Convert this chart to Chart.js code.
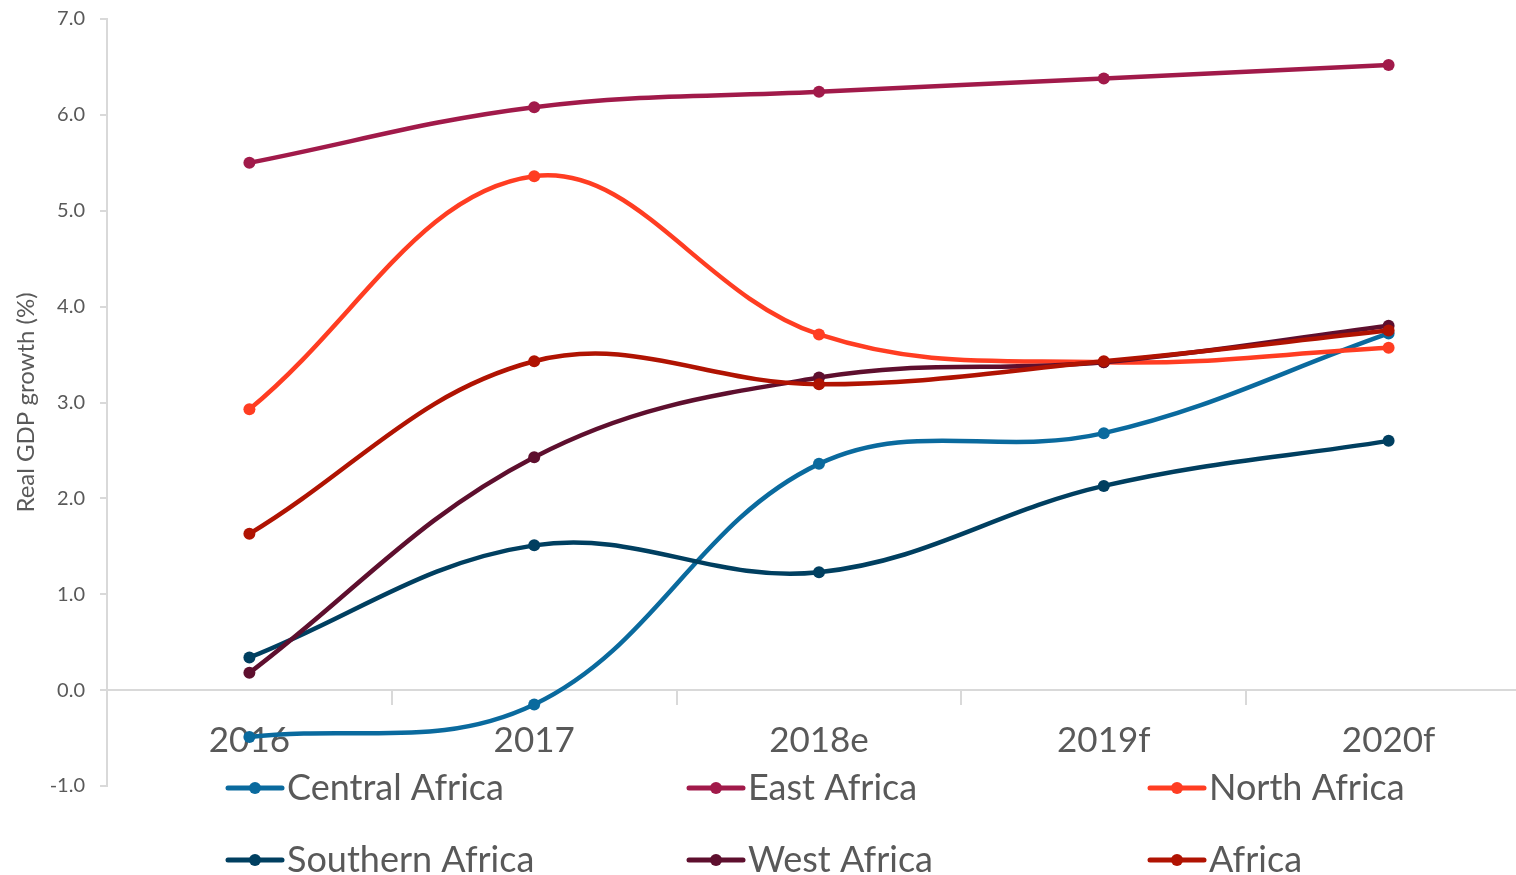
<!DOCTYPE html>
<html>
<head>
<meta charset="utf-8">
<title>Real GDP growth by region</title>
<script src="https://cdn.jsdelivr.net/npm/chart.js@4.4.1/dist/chart.umd.min.js"></script>
<style>
  html, body { margin: 0; padding: 0; background: #fff; overflow: hidden; }
  #wrap { width: 1537px; height: 875px; position: relative; }
</style>
</head>
<body>
<div id="wrap"><canvas id="canvas"></canvas></div>
<script>
// categories and regional growth rates (%)
var years = ['2016', '2017', '2018e', '2019f', '2020f'];
var centralAfrica  = [-0.49, -0.15, 2.36, 2.68, 3.72];
var eastAfrica     = [5.50, 6.08, 6.24, 6.38, 6.52];
var northAfrica    = [2.93, 5.36, 3.71, 3.42, 3.57];
var southernAfrica = [0.34, 1.51, 1.23, 2.13, 2.60];
var westAfrica     = [0.18, 2.43, 3.26, 3.42, 3.80];
var africa         = [1.63, 3.43, 3.19, 3.43, 3.75];
var yTicks = [-1, 0, 1, 2, 3, 4, 5, 6, 7];

var textColor = '#595959';
var axisColor = '#d9d9d9';
var font = 'Lato';

function series(label, data, color, order) {
  return {
    label: label,
    data: data,
    borderColor: color,
    backgroundColor: color,
    borderWidth: 4.5,
    pointRadius: 6,
    pointBorderWidth: 0,
    pointBackgroundColor: color,
    tension: 0.38,
    fill: false,
    order: order // later series sit on top
  };
}

// legend in three fixed columns under the x labels
var gridLegend = {
  id: 'gridLegend',
  afterDraw: function(chart) {
    var ctx = chart.ctx;
    var area = chart.chartArea;
    chart.data.datasets.forEach(function(ds, i) {
      var col = i % 3, row = Math.floor(i / 3);
      var x = area.left + 121 + col * 461;
      var y = area.bottom + 2 + row * 72;
      ctx.save();
      ctx.strokeStyle = ds.borderColor;
      ctx.lineWidth = 5;
      ctx.lineCap = 'round';
      ctx.beginPath();
      ctx.moveTo(x, y);
      ctx.lineTo(x + 54, y);
      ctx.stroke();
      ctx.fillStyle = ds.borderColor;
      ctx.beginPath();
      ctx.arc(x + 27, y, 6, 0, Math.PI * 2);
      ctx.fill();
      ctx.fillStyle = textColor;
      ctx.font = '36px ' + font;
      ctx.textBaseline = 'middle';
      ctx.textAlign = 'left';
      ctx.fillText(ds.label, x + 59, y);
      ctx.restore();
    });
  }
};

// no extra padding from the scales, the layout padding decides the plot box
function noScalePadding(scale) {
  scale.paddingTop = 0;
  scale.paddingBottom = 0;
}

var config = {
  type: 'line',
  data: {
    labels: years,
    datasets: [
      series('Central Africa', centralAfrica, '#0a6a9e', 5),
      series('East Africa', eastAfrica, '#a11a4a', 4),
      series('North Africa', northAfrica, '#ff3d22', 3),
      series('Southern Africa', southernAfrica, '#003f60', 2),
      series('West Africa', westAfrica, '#5e0f2e', 1),
      series('Africa', africa, '#b01302', 0)
    ]
  },
  options: {
    responsive: true,
    maintainAspectRatio: false,
    animation: false,
    devicePixelRatio: 1,
    layout: { padding: { top: 19, bottom: 89, left: 0, right: 0 } },
    plugins: {
      legend: { display: false },
      tooltip: { enabled: false }
    },
    scales: {
      x: {
        type: 'category',
        position: { y: 0 },
        offset: true,
        afterFit: noScalePadding,
        grid: {
          drawOnChartArea: false,
          offset: true,
          tickLength: 14,
          color: axisColor,
          lineWidth: 2
        },
        border: { display: true, color: axisColor, width: 2 },
        ticks: {
          color: textColor,
          font: { family: font, size: 35 },
          padding: 16,
          maxRotation: 0
        }
      },
      y: {
        min: -1,
        max: 7,
        afterFit: function(scale) {
          scale.width = 107;
          noScalePadding(scale);
        },
        afterBuildTicks: function(scale) {
          scale.ticks = yTicks.map(function(v) { return { value: v }; });
        },
        grid: {
          drawOnChartArea: false,
          tickLength: 7,
          color: axisColor,
          lineWidth: 2
        },
        border: { display: true, color: axisColor, width: 2 },
        ticks: {
          color: textColor,
          font: { family: font, size: 20 },
          padding: 15,
          callback: function(v) { return Number(v).toFixed(1); }
        },
        title: {
          display: true,
          text: 'Real GDP growth (%)',
          color: textColor,
          font: { family: font, size: 24 },
          padding: { top: 12, bottom: 0 }
        }
      }
    }
  },
  plugins: [gridLegend]
};

new Chart(document.getElementById('canvas'), config);
</script>
</body>
</html>
